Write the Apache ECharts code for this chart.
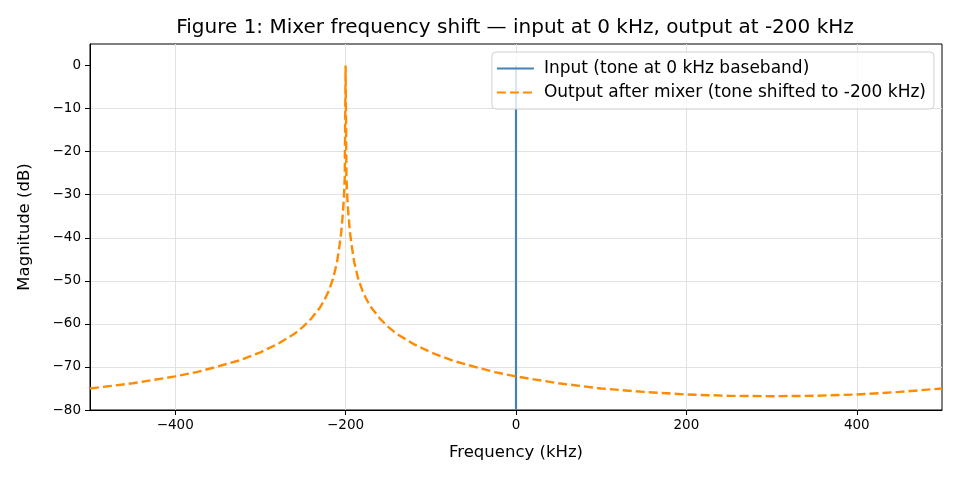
<!DOCTYPE html>
<html>
<head>
<meta charset="utf-8">
<script src="https://cdn.jsdelivr.net/npm/echarts@6/dist/echarts.min.js"></script>
<style>
  html, body { margin: 0; padding: 0; background: #fff; }
  #chart { width: 960px; height: 480px; }
</style>
</head>
<body>
<div id="chart"></div>
<script>
// values (kHz, dB)
var inputFreq = [0, 0];
var inputDb = [-80, 0];

var outputFreq = [-500, -475, -450, -425, -400, -375, -350, -325, -300, -280, -260, -250, -240, -230, -225, -220, -215, -210, -207, -205, -203, -202, -201, -200,
  -199, -198, -197, -195, -193, -190, -185, -180, -175, -170, -160, -150, -140, -120, -100, -75, -50, -25, 0, 25, 50, 75, 100, 150, 200, 250, 300, 350, 400, 450, 500];
var outputDb = [-75.0, -74.4, -73.8, -73.0, -72.2, -71.2, -69.9, -68.5, -66.6, -64.7, -62.3, -60.7, -58.7, -56.2, -54.5, -52.4, -49.7, -45.6, -41.6, -38.5, -33.8, -30.5, -26.0, 0,
  -26.0, -30.5, -33.8, -38.5, -41.6, -45.6, -49.7, -52.4, -54.5, -56.2, -58.7, -60.7, -62.3, -64.7, -66.6, -68.5, -69.9, -71.2, -72.2, -73.0, -73.8, -74.4, -75.0, -75.8, -76.4, -76.7, -76.8, -76.7, -76.4, -75.8, -75.0];

var xTicks = [-400, -200, 0, 200, 400];
var yTicks = [-80, -70, -60, -50, -40, -30, -20, -10, 0];

function pairs(xs, ys) {
  return xs.map(function (x, i) { return [x, ys[i]]; });
}
function minus(v) {
  return String(v).replace('-', '\u2212');
}

var chart = echarts.init(document.getElementById('chart'));
var font = 'DejaVu Sans';

var option = {
  animation: false,
  textStyle: { fontFamily: font },
  title: {
    text: 'Figure 1: Mixer frequency shift \u2014 input at 0 kHz, output at -200 kHz',
    left: 510, textAlign: 'center', top: 13,
    textStyle: { fontFamily: font, fontSize: 20, fontWeight: 'normal', color: '#000' }
  },
  grid: {
    left: 90, right: 18, top: 44, bottom: 70,
    show: true, borderColor: '#000', borderWidth: 1
  },
  legend: {
    orient: 'vertical',
    right: 26, top: 52,
    itemWidth: 37, itemHeight: 14, itemGap: 7,
    padding: [8, 8, 8, 4],
    backgroundColor: 'rgba(255,255,255,0.8)',
    borderColor: '#d0d0d0', borderWidth: 1, borderRadius: 4,
    itemStyle: { opacity: 0 },
    textStyle: { fontFamily: font, fontSize: 17, color: '#000', padding: [0, 0, 0, 5] }
  },
  xAxis: {
    type: 'value', min: -500, max: 500,
    name: 'Frequency (kHz)', nameLocation: 'middle', nameGap: 34,
    nameTextStyle: { fontFamily: font, fontSize: 16.5, color: '#000' },
    axisLine: { onZero: false, lineStyle: { color: '#000' } },
    axisTick: { show: true, length: 5, customValues: xTicks, lineStyle: { color: '#000' } },
    axisLabel: { customValues: xTicks, margin: 8, fontFamily: font, fontSize: 13.5, color: '#000', formatter: minus },
    splitLine: { show: true, lineStyle: { color: '#e2e2e2', width: 1 } }
  },
  yAxis: {
    type: 'value', min: -80, max: 5, interval: 10,
    name: 'Magnitude (dB)', nameLocation: 'middle', nameGap: 57,
    nameTextStyle: { fontFamily: font, fontSize: 16.5, color: '#000' },
    axisLine: { show: true, onZero: false, lineStyle: { color: '#000' } },
    axisTick: { show: true, length: 5, customValues: yTicks, lineStyle: { color: '#000' } },
    axisLabel: { customValues: yTicks, margin: 9, fontFamily: font, fontSize: 13.5, color: '#000', formatter: minus },
    splitLine: { show: true, showMaxLine: false, lineStyle: { color: '#e2e2e2', width: 1 } }
  },
  series: [
    {
      name: 'Input (tone at 0 kHz baseband)',
      type: 'line', showSymbol: false, symbol: 'none',
      data: pairs(inputFreq, inputDb),
      lineStyle: { color: '#4682b4', width: 2.2 },
      itemStyle: { color: '#4682b4' }
    },
    {
      name: 'Output after mixer (tone shifted to -200 kHz)',
      type: 'line', showSymbol: false, symbol: 'none',
      data: pairs(outputFreq, outputDb),
      lineStyle: { color: '#ff8c00', width: 2.4, type: [9, 4] },
      itemStyle: { color: '#ff8c00' }
    }
  ]
};

chart.setOption(option);
</script>
</body>
</html>
